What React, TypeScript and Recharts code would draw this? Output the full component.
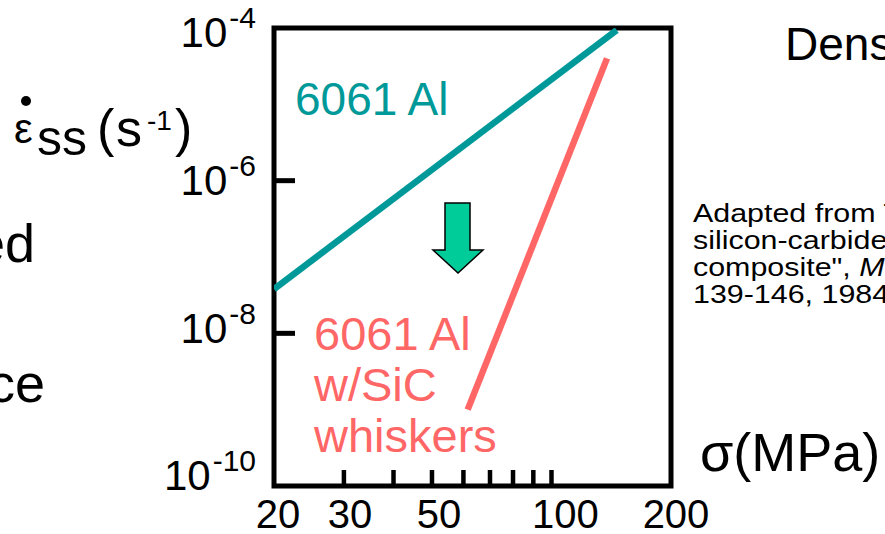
import { Line, LineChart, ReferenceArea, XAxis, YAxis } from "recharts";

// creep rate vs stress, log-log
const plainAl = [
  { x: 20, y: 3.8e-8 },
  { x: 146, y: 9.4e-5 },
];
const sicAl = [
  { x: 61.5, y: 1.0e-9 },
  { x: 138, y: 4.0e-5 },
];
const xTicks = [20, 30, 40, 50, 60, 70, 80, 90, 100, 200];
const xLabels = [20, 30, 50, 100, 200];
const yTicks = [1e-10, 1e-8, 1e-6, 1e-4];

const FONT = '"Liberation Sans", Arial, sans-serif';
const labelShift: Record<number, number> = { 20: 4, 30: 6, 50: 7, 100: 14, 200: 5 };

const XTick = (props: any) => {
  const { x, y, payload } = props;
  const v = payload.value;
  const edge = v === 20 || v === 200;
  return (
    <g>
      {!edge && (
        <line x1={x} y1={y} x2={x} y2={y - 16} stroke="#000" strokeWidth={4.5} />
      )}
      {xLabels.includes(v) && (
        <text
          x={x + (labelShift[v] ?? 6)}
          y={y + 42}
          textAnchor="middle"
          fontSize={40}
          fontFamily={FONT}
          fill="#000"
        >
          {v}
        </text>
      )}
    </g>
  );
};

const YTick = (props: any) => {
  const { x, y, payload } = props;
  const exp = Math.round(Math.log10(payload.value));
  const edge = exp === -4 || exp === -10;
  const dy = 19 + (exp + 4) * 2.45;
  return (
    <g>
      {!edge && (
        <line x1={x} y1={y} x2={x + 21} y2={y} stroke="#000" strokeWidth={5} />
      )}
      <text
        x={256}
        y={y + dy}
        textAnchor="end"
        fontSize={42}
        fontFamily={FONT}
        fill="#000"
      >
        10
        <tspan fontSize={30} dx={2} dy={-19}>
          {String(exp)}
        </tspan>
      </text>
    </g>
  );
};

export default function App() {
  return (
    <div
      style={{
        position: "absolute",
        left: 0,
        top: 0,
        width: 885,
        height: 534,
        overflow: "hidden",
        background: "#fff",
        fontFamily: FONT,
      }}
    >
      <LineChart
        width={885}
        height={534}
        margin={{ top: 28, right: 214, bottom: 8, left: 214 }}
      >
        <XAxis
          dataKey="x"
          type="number"
          scale="log"
          domain={[20, 200]}
          allowDataOverflow
          ticks={xTicks}
          interval={0}
          height={40}
          axisLine={false}
          tickLine={false}
          tickSize={0}
          tickMargin={0}
          tick={<XTick />}
        />
        <YAxis
          type="number"
          scale="log"
          domain={[1e-10, 1e-4]}
          allowDataOverflow
          ticks={yTicks}
          interval={0}
          width={60}
          axisLine={false}
          tickLine={false}
          tickSize={0}
          tickMargin={0}
          tick={<YTick />}
        />
        <ReferenceArea
          x1={20}
          x2={200}
          y1={1e-10}
          y2={1e-4}
          fill="none"
          fillOpacity={0}
          stroke="#000"
          strokeWidth={5}
          ifOverflow="visible"
        />
        <Line
          data={plainAl}
          dataKey="y"
          type="linear"
          stroke="#009999"
          strokeWidth={6.5}
          dot={false}
          isAnimationActive={false}
        />
        <Line
          data={sicAl}
          dataKey="y"
          type="linear"
          stroke="#FF6666"
          strokeWidth={6.5}
          dot={false}
          isAnimationActive={false}
        />
      </LineChart>

      <svg
        width={885}
        height={534}
        style={{ position: "absolute", left: 0, top: 0, pointerEvents: "none" }}
        fontFamily={FONT}
      >
        {/* y axis label */}
        <circle cx={26} cy={101} r={5} fill="#000" />
        <text x={14} y={143} fontSize={42}>ε</text>
        <text x={37} y={155} fontSize={50}>ss</text>
        <text x={97} y={146} fontSize={52}>(</text>
        <text x={116} y={146} fontSize={52}>s</text>
        <text x={147} y={130} fontSize={28}>-1</text>
        <text x={175} y={146} fontSize={52}>)</text>

        {/* cut-off slide text */}
        <text x={35} y={262} fontSize={54} textAnchor="end">ed</text>
        <text x={45} y={402} fontSize={54} textAnchor="end">ce</text>
        <text x={785} y={60} fontSize={46}>Dens</text>

        {/* series labels */}
        <text x={295} y={115} fontSize={46} fill="#009999">6061 Al</text>
        <text x={314} y={350} fontSize={47} fill="#FF6666">6061 Al</text>
        <text x={314} y={401} fontSize={47} fill="#FF6666">w/SiC</text>
        <text x={314} y={452} fontSize={47} fill="#FF6666">whiskers</text>

        {/* arrow */}
        <path
          d="M445,203 H470 V250 H483 L458,273 L433,250 H445 Z"
          fill="#00CC99"
          stroke="#000"
          strokeWidth={1.5}
        />

        {/* citation */}
        <g fontSize={26} transform="translate(693,0) scale(1.17,1)">
          <text x={0} y={222}>Adapted from T.G. Nieh, "Creep rupture of a</text>
          <text x={0} y={249}>silicon-carbide reinforced aluminum</text>
          <text x={0} y={276}>
            composite", <tspan fontStyle="italic">Metall. Trans. A</tspan>, 15A, pp.
          </text>
          <text x={0} y={303}>139-146, 1984.</text>
        </g>

        {/* x axis label */}
        <text x={700} y={471} fontSize={54}>σ(MPa)</text>
      </svg>
    </div>
  );
}
